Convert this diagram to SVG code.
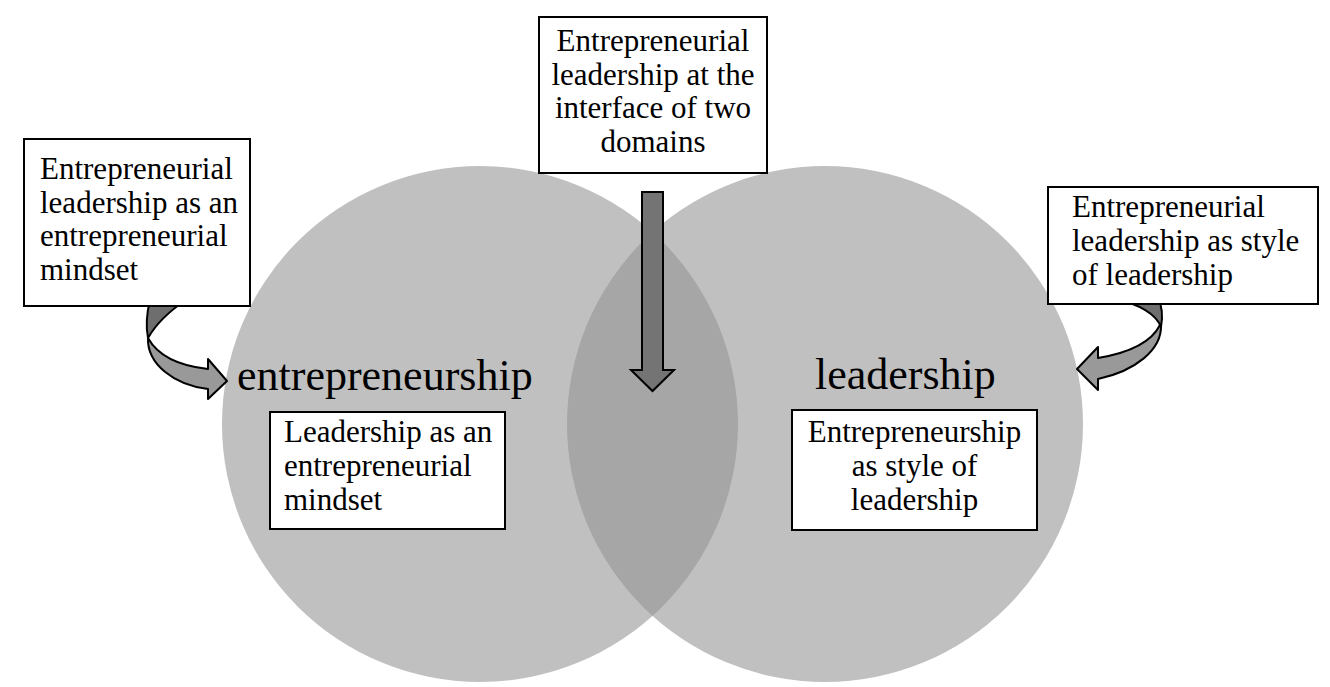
<svg xmlns="http://www.w3.org/2000/svg" width="1330" height="687" viewBox="0 0 1330 687">
<style>
.box{fill:#fff;stroke:#000;stroke-width:2}
.t{font-family:"Liberation Serif","Times New Roman",serif;font-size:31px;fill:#000}
.big{font-family:"Liberation Serif","Times New Roman",serif;font-size:44px;fill:#000}
.c{fill:#c0c0c0}
.dark{fill:#6e6e6e;stroke:#000;stroke-width:2;stroke-linejoin:round}
.light{fill:#999;stroke:#000;stroke-width:2;stroke-linejoin:round}
.mid{fill:#747474;stroke:#000;stroke-width:2;stroke-linejoin:miter}
</style>
<defs>
<clipPath id="clipL"><circle cx="480" cy="424" r="258"/></clipPath>
</defs>
<rect width="1330" height="687" fill="#fff"/>
<g id="circles">
<circle id="circle-entrepreneurship" class="c" cx="480" cy="424" r="258"/>
<circle id="circle-leadership" class="c" cx="825" cy="424" r="258"/>
<circle id="overlap" cx="825" cy="424" r="258" fill="#a6a6a6" clip-path="url(#clipL)"/>
</g>
<g id="connectors">
<path class="dark" d="M150,300 C146,316 146,328 148,338 C156,324 168,312 186,300 Z"/>
<path class="light" d="M148,338 C147,364 174,385 208,389 L208,399 L227,381 L208,359 L208,369 C180,366 158,356 148,338 Z"/>
<path class="dark" d="M1113,298 C1138,304 1156,314 1161,327 C1163,316 1162,306 1158,298 Z"/>
<path class="light" d="M1161,325 C1162,350 1135,371 1098,379 L1098,390 L1077,369 L1098,347 L1098,358 C1128,353 1151,343 1160,325 Z"/>
<path class="mid" d="M642,192 L663,192 L663,370 L674,370 L652.5,391 L631,370 L642,370 Z"/>
</g>
<g id="label-entrepreneurship"><text class="big" x="237" y="390">entrepreneurship</text></g>
<g id="label-leadership"><text class="big" x="815" y="389">leadership</text></g>
<g id="box-mindset">
<rect class="box" x="24" y="139" width="226" height="167"/>
<text class="t" x="40" y="179">Entrepreneurial</text>
<text class="t" x="40" y="213">leadership as an</text>
<text class="t" x="40" y="246">entrepreneurial</text>
<text class="t" x="40" y="280">mindset</text>
</g>
<g id="box-interface">
<rect class="box" x="539" y="17" width="228" height="156"/>
<text class="t" x="653" y="51" text-anchor="middle">Entrepreneurial</text>
<text class="t" x="653" y="85" text-anchor="middle">leadership at the</text>
<text class="t" x="653" y="118" text-anchor="middle">interface of two</text>
<text class="t" x="653" y="152" text-anchor="middle">domains</text>
</g>
<g id="box-style">
<rect class="box" x="1048" y="187" width="270" height="117"/>
<text class="t" x="1072" y="217">Entrepreneurial</text>
<text class="t" x="1072" y="251">leadership as style</text>
<text class="t" x="1072" y="285">of leadership</text>
</g>
<g id="box-leadership-mindset">
<rect class="box" x="270" y="412" width="235" height="117"/>
<text class="t" x="284" y="442">Leadership as an</text>
<text class="t" x="284" y="476">entrepreneurial</text>
<text class="t" x="284" y="510">mindset</text>
</g>
<g id="box-entrepreneurship-style">
<rect class="box" x="792" y="410" width="245" height="120"/>
<text class="t" x="914.5" y="442" text-anchor="middle">Entrepreneurship</text>
<text class="t" x="914.5" y="476" text-anchor="middle">as style of</text>
<text class="t" x="914.5" y="510" text-anchor="middle">leadership</text>
</g>
</svg>
